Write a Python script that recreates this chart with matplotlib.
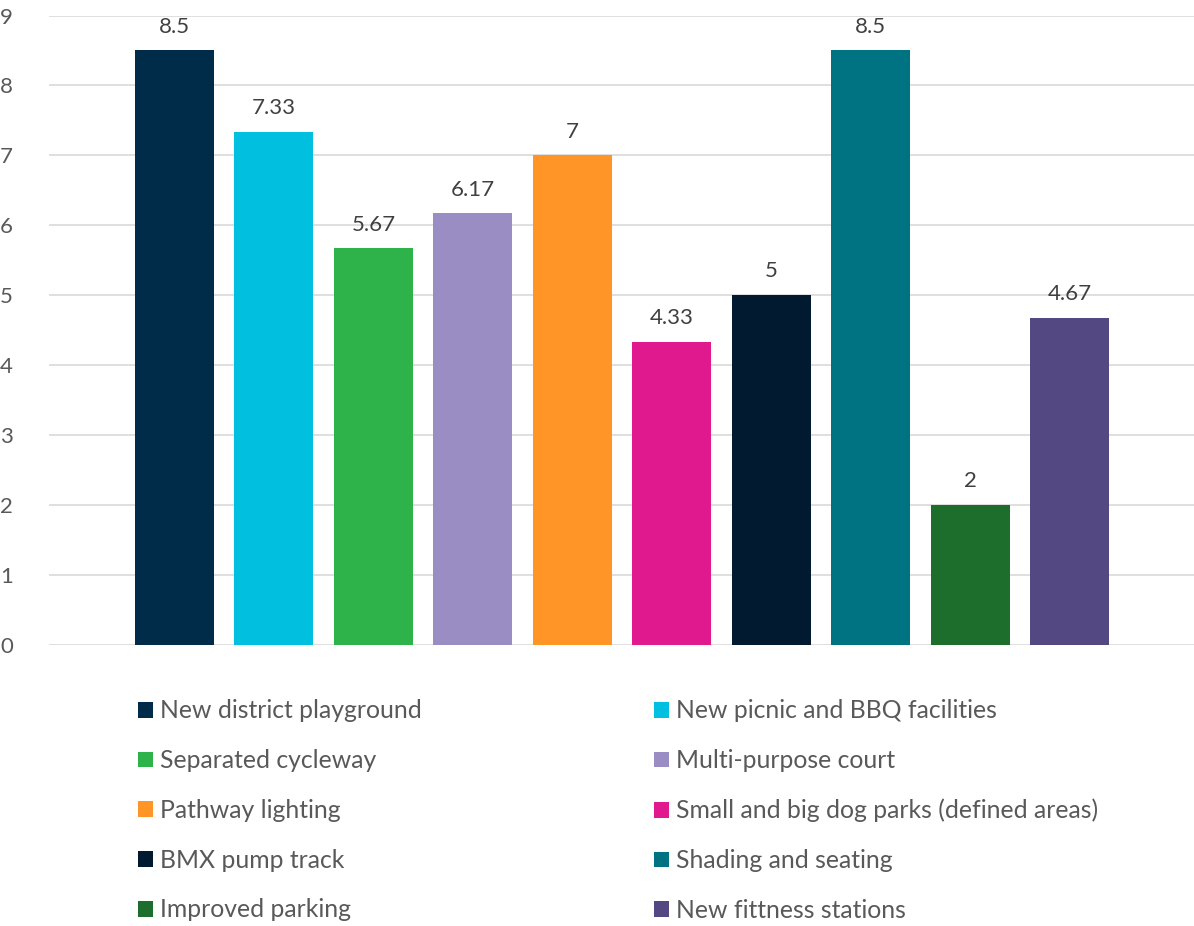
import matplotlib.pyplot as plt
from matplotlib.patches import Patch

plt.rcParams['font.family'] = ['Lato', 'DejaVu Sans']

# survey results
categories = ['New district playground', 'New picnic and BBQ facilities',
              'Separated cycleway', 'Multi-purpose court',
              'Pathway lighting', 'Small and big dog parks (defined areas)',
              'BMX pump track', 'Shading and seating',
              'Improved parking', 'New fittness stations']
scores = [8.5, 7.33, 5.67, 6.17, 7, 4.33, 5, 8.5, 2, 4.67]
colors = ['#002B49', '#00BFDF', '#2DB34A', '#9A8DC3', '#FF9526',
          '#E0198F', '#021A2F', '#007383', '#1D6D2D', '#544883']
yticks = list(range(0, 10))

fig = plt.figure(figsize=(11.94, 9.26), dpi=100)
ax = fig.add_axes([49 / 1194, 1 - 645 / 926, 1 - 49 / 1194, (645 - 15.5) / 926])

x = list(range(len(categories)))
bars = ax.bar(x, scores, width=0.794, color=colors, zorder=3)
ax.bar_label(bars, labels=[f'{v:g}' for v in scores], padding=10,
             fontsize=16, color='#404040')

ax.set_xlim(-1.262, 10.25)
ax.set_ylim(0, 9)
ax.set_yticks(yticks)
ax.set_xticks([])
ax.yaxis.grid(True, color='#D9D9D9', linewidth=1.2, zorder=0)
ax.tick_params(axis='y', length=0, pad=26, labelsize=16, labelcolor='#595959')
for s in ax.spines.values():
    s.set_visible(False)

# legend in two columns, row by row
handles = [Patch(facecolor=c, edgecolor='none') for c in colors]
for col, xpx in enumerate([138, 654]):
    idx = list(range(col, len(categories), 2))
    fig.legend([handles[i] for i in idx], [categories[i] for i in idx],
               loc='upper left', bbox_to_anchor=(xpx / 1194, 1 - 699.5 / 926),
               frameon=False, fontsize=17.8, borderpad=0, borderaxespad=0,
               handlelength=0.61, handleheight=0.61, handletextpad=0.28,
               labelspacing=1.08, labelcolor='#595959')

fig.savefig('out.png', dpi=100)
